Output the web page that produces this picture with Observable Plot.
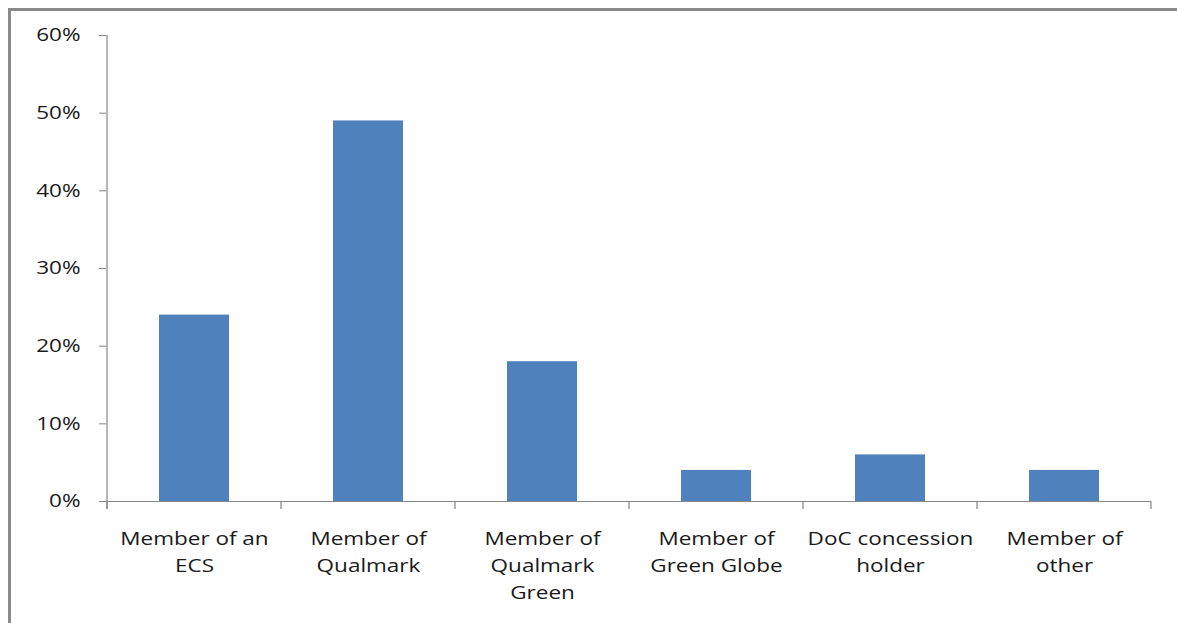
<!DOCTYPE html>
<html>
<head>
<meta charset="utf-8">
<script src="https://cdn.jsdelivr.net/npm/d3@7"></script>
<script src="https://cdn.jsdelivr.net/npm/@observablehq/plot@0.6"></script>
<style>
  html, body { margin: 0; padding: 0; background: #fff; overflow: hidden; width: 1177px; height: 623px; }
  #frame { position: absolute; left: 8px; top: 8px; width: 1300px; height: 800px; border-left: 3px solid #8a8a8a; border-top: 3px solid #8a8a8a; }
  #chart { position: absolute; left: 0; top: 0; }
</style>
</head>
<body>
<div id="frame"></div>
<div id="chart"></div>
<script>
const categories = [
  "Member of an\nECS",
  "Member of\nQualmark",
  "Member of\nQualmark\nGreen",
  "Member of\nGreen Globe",
  "DoC concession\nholder",
  "Member of\nother"
];
const values = [0.24, 0.49, 0.18, 0.04, 0.06, 0.04];
const yTicks = [0, 0.1, 0.2, 0.3, 0.4, 0.5, 0.6];

const data = categories.map((c, i) => ({category: c, value: values[i]}));
const axisColor = "#868686";
const textColor = "#1a1a1a";

const plot = Plot.plot({
  width: 1177,
  height: 623,
  marginLeft: 106,
  marginRight: 26,
  marginTop: 35,
  marginBottom: 122,
  style: {fontFamily: "'Open Sans', sans-serif", fontSize: "18px", color: textColor, background: "transparent"},
  x: {domain: categories, paddingInner: 0.6, paddingOuter: 0.3, axis: null},
  y: {domain: [0, 0.6], axis: null},
  marks: [
    Plot.barY(data, {x: "category", y: "value", fill: "#4F81BD"}),
    Plot.ruleY([0], {stroke: axisColor, strokeWidth: 1.2}),
    Plot.axisY({ticks: yTicks, tickFormat: d => Math.round(d * 100) + "%", tickSize: 7, tickPadding: 19, stroke: axisColor, fill: textColor, fontSize: 18, label: null}),
    Plot.axisX({tickSize: 0, tickPadding: 24, lineHeight: 1.5, fill: textColor, fontSize: 18, label: null})
  ]
});

// axis line and category-boundary ticks, positioned from the plot's own scales
const xs = plot.scale("x");
const ys = plot.scale("y");
const ns = "http://www.w3.org/2000/svg";
const g = document.createElementNS(ns, "g");
g.setAttribute("stroke", axisColor);
g.setAttribute("stroke-width", "1.2");
const y0 = ys.apply(0);
const yTop = ys.apply(yTicks[yTicks.length - 1]);
const gap = (xs.step - xs.bandwidth) / 2;
function line(x1, y1, x2, y2) {
  const l = document.createElementNS(ns, "line");
  l.setAttribute("x1", x1); l.setAttribute("y1", y1);
  l.setAttribute("x2", x2); l.setAttribute("y2", y2);
  g.appendChild(l);
}
const bounds = categories.map(c => xs.apply(c) - gap);
bounds.push(xs.apply(categories[categories.length - 1]) + xs.bandwidth + gap);
line(bounds[0], yTop, bounds[0], y0 + 8);
bounds.forEach(b => line(b, y0, b, y0 + 8));
plot.appendChild(g);

// horizontally widen the label glyphs as in the reference
plot.querySelectorAll("text").forEach(t => {
  const tr = t.getAttribute("transform") || "";
  t.setAttribute("transform", tr + " scale(1.25,1)");
});

document.getElementById("chart").appendChild(plot);
</script>
</body>
</html>
